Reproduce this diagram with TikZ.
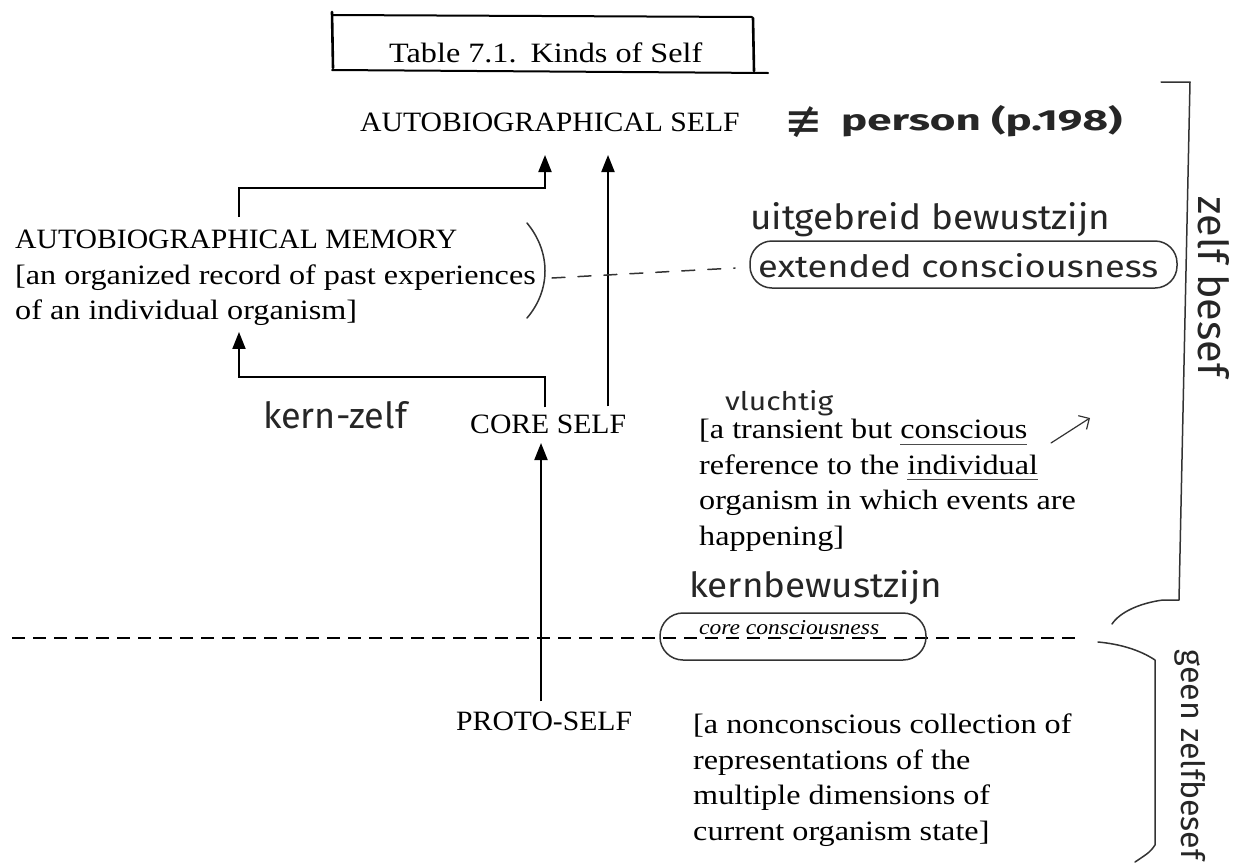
\documentclass[tikz,border=0pt]{standalone}
\usepackage{fontspec}
\setmainfont{Liberation Serif}[FakeStretch=1.15]
\newfontfamily\capsf{Liberation Serif}[FakeStretch=1.06]
\newfontfamily\hand{Fira Sans}
\newfontfamily\sym{DejaVu Sans}
\usetikzlibrary{arrows.meta,calc}
\newlength\ulw
\newcommand\pul[1]{\settowidth\ulw{#1}\rlap{\color{black!70}\rule[-6pt]{\ulw}{1pt}}#1}
\begin{document}
\begin{tikzpicture}[x=1pt,y=-1pt,
  txt/.style={inner sep=0pt, font=\fontsize{28}{35.5}\selectfont},
  captxt/.style={txt, font=\fontsize{28}{35.5}\selectfont\capsf},
  blk/.style={txt, align=left},
  arr/.style={line width=2pt, -{Triangle[length=17pt,width=13pt]}},
  pencil/.style={line width=1.5pt, draw=black!80, line cap=round, line join=round},
  hw/.style={inner sep=0pt, text=black!85},
  sepline/.style={line width=2.4pt, dash pattern=on 13pt off 8pt},
  boxline/.style={line width=2pt, line cap=round}]
\useasboundingbox[fill=white] (0,0) rectangle (1237,865);

% title box
\node[txt, anchor=base west] (title) at (389,62) {Table 7.1.\hspace{14pt}Kinds of Self};
\draw[boxline, line width=2.6pt] (332,12) -- (333,68);
\draw[boxline] (332,15) -- (752,17);
\draw[boxline] (332,70) -- (768,73);
\draw[boxline, line width=2.6pt] (753,18) -- (754,71);

% printed nodes
\node[captxt, anchor=base west] (AS) at (360,131) {AUTOBIOGRAPHICAL SELF};
\node[blk, anchor=north west] (AM) at (15,230) {{\capsf AUTOBIOGRAPHICAL MEMORY}\\{[}an organized record of past experiences\\of an individual organism{]}};
\node[captxt, anchor=base west] (CS) at (470,433) {CORE SELF};
\node[blk, anchor=north west] (CSd) at (699,419) {{[}a transient but \pul{conscious}\\reference to the \pul{individual}\\organism in which events are\\happening{]}};
\node[captxt, anchor=base west] (PS) at (456,730) {PROTO-SELF};
\node[blk, anchor=north west] (PSd) at (693,714) {{[}a nonconscious collection of\\representations of the\\multiple dimensions of\\current organism state{]}};

% connectors
\coordinate (k1) at (239,188);
\coordinate (k2) at (545,188);
\coordinate (k3) at (545,377);
\coordinate (k4) at (239,377);
\coordinate (k5) at (608,0);
\coordinate (k6) at (541,0);
\draw[arr] ([yshift=13pt]AM.north -| k1) -- (k1) -- (k2) -- ([yshift=-24pt]AS.base -| k2);
\draw[arr] ([yshift=7pt]CS.north -| k3) -- (k3) -- (k4) -- ([yshift=-6pt]AM.south -| k4);
\draw[arr] ([yshift=8pt]CS.north -| k5) -- ([yshift=-24pt]AS.base -| k5);
\draw[arr] ([yshift=10pt]PS.north -| k6) -- ([yshift=-10pt]CS.base -| k6);

% separator
\coordinate (d1) at (12,638);
\coordinate (d2) at (1080,638);
\draw[sepline] (d1) -- (d2);

% handwritten annotations
\node[hw, anchor=base west] (neq) at (784,136) {\sym\fontsize{46}{46}\selectfont ≢};
\node[hw, anchor=base west] (person) at (841,130) {\resizebox{281pt}{25pt}{\hand\bfseries person (p.198)}};
\node[hw, anchor=base west] (uit) at (750,229) {\resizebox{360pt}{27pt}{\hand uitgebreid bewustzijn}};
\node[hw, anchor=base west] (ext) at (758,277) {\resizebox{400pt}{24pt}{\hand extended consciousness}};
\draw[pencil, rounded corners=22pt] (750,241) rectangle (1177,288);
\draw[pencil] (527,223) .. controls (551,252) and (551,290) .. (527,318);
\draw[pencil, dash pattern=on 13pt off 13pt] (552,278) -- (735,268);

\node[hw, anchor=base west] (kz) at (263,428) {\resizebox{144pt}{27pt}{\hand kern-zelf}};
\node[hw, anchor=base west] (vl) at (725,410) {\resizebox{108pt}{20pt}{\hand vluchtig}};
\draw[pencil, line width=1.2pt, -{Straight Barb[length=8pt]}] (1051,443) .. controls (1070,430) .. (1090,418);

\node[hw, anchor=base west] (kb) at (689,597) {\resizebox{253pt}{27pt}{\hand kernbewustzijn}};
\node[inner sep=0pt, anchor=base west] (cc) at (699,634) {\resizebox{180pt}{14pt}{\itshape core consciousness}};
\draw[pencil, rounded corners=23pt] (660,613) rectangle (926,660);

% right brackets
\draw[pencil] (1161,82) -- (1190,82) -- (1179,600) -- (1163,600) .. controls (1140,603) and (1120,612) .. (1112,624);
\draw[pencil] (1098,642) .. controls (1120,644) and (1140,650) .. (1155,660) -- (1155,845) .. controls (1150,852) .. (1135,862);
\node[hw, rotate=-90] (zb) at (1214,287) {\resizebox{180pt}{!}{\hand zelf besef}};
\node[hw, rotate=-90] (gz) at (1190,755) {\resizebox{210pt}{!}{\hand geen zelfbesef}};
\end{tikzpicture}
\end{document}
